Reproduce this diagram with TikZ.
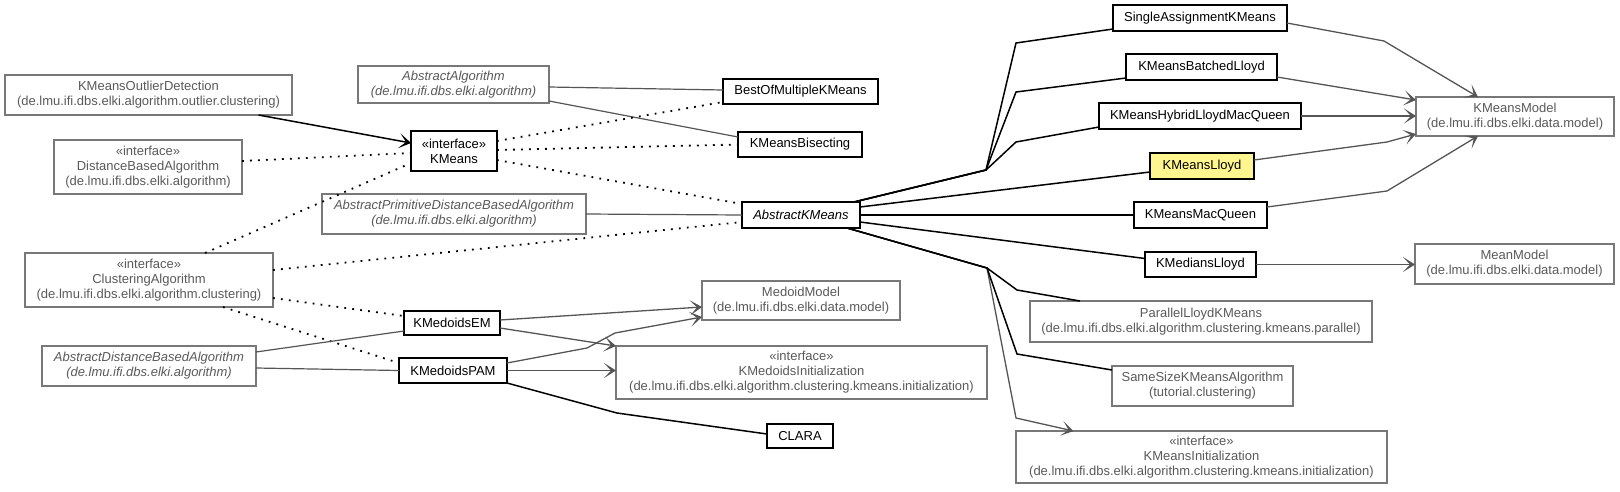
\documentclass[tikz,border=0pt]{standalone}
\usepackage{fontspec}
\setmainfont{Liberation Sans}
\usetikzlibrary{arrows.meta}
\definecolor{gline}{RGB}{85,85,85}
\definecolor{gborder}{RGB}{120,120,120}
\definecolor{gtext}{RGB}{90,90,90}
\definecolor{hl}{RGB}{255,246,143}
\newcommand{\umlfont}{\fontsize{13}{15}\selectfont}
\newcommand{\umlbox}[7]{\node[#6, minimum width={#4-#2}, minimum height={#5-#3}] (#1) at ({(#2+#4)/2},{(#3+#5)/2}) {#7};}
\begin{document}
\begin{tikzpicture}[x=1pt,y=-1pt,
  base/.style={rectangle, inner sep=0pt, outer sep=0pt, align=center, font=\umlfont, fill=white},
  cls/.style={base, draw=black, line width=1.6pt, text=black},
  ext/.style={base, draw=gborder, line width=1.2pt, text=gtext},
  hlcls/.style={cls, fill=hl},
  itl/.style={font=\umlfont\itshape},
  inh/.style={draw=black, line width=1.5pt},
  ginh/.style={draw=gline, line width=1.2pt},
  real/.style={draw=black, line width=1.8pt, dash pattern=on 1.8pt off 6.2pt},
  dep/.style={draw=gline, line width=1.3pt, -{Stealth[length=12pt,width=15pt,inset=7pt]}},
  bdep/.style={draw=black, line width=1.5pt, -{Stealth[length=12pt,width=15pt,inset=7pt]}}
]
\fill[white] (0,0) rectangle (1620,491);
\useasboundingbox (0,0) rectangle (1620,491);

% boxes
\umlbox{kod}{5}{75}{292}{115}{ext}{KMeansOutlierDetection\\(de.lmu.ifi.dbs.elki.algorithm.outlier.clustering)}
\umlbox{dba}{54}{140}{242}{194}{ext}{«interface»\\DistanceBasedAlgorithm\\(de.lmu.ifi.dbs.elki.algorithm)}
\umlbox{aa}{358}{66}{549}{103}{ext,itl}{AbstractAlgorithm\\(de.lmu.ifi.dbs.elki.algorithm)}
\umlbox{km}{411}{131}{497}{171}{cls}{«interface»\\KMeans}
\umlbox{bom}{723}{79}{878}{104}{cls}{BestOfMultipleKMeans}
\umlbox{kbis}{738}{132}{862}{157}{cls}{KMeansBisecting}
\umlbox{apd}{322}{194}{586}{234}{ext,itl}{AbstractPrimitiveDistanceBasedAlgorithm\\(de.lmu.ifi.dbs.elki.algorithm)}
\umlbox{akm}{742}{202}{860}{228}{cls,itl}{AbstractKMeans}
\umlbox{ca}{25}{253}{273}{307}{ext}{«interface»\\ClusteringAlgorithm\\(de.lmu.ifi.dbs.elki.algorithm.clustering)}
\umlbox{adb}{42}{346}{256}{386}{ext,itl}{AbstractDistanceBasedAlgorithm\\(de.lmu.ifi.dbs.elki.algorithm)}
\umlbox{kem}{404}{311}{500}{335}{cls}{KMedoidsEM}
\umlbox{kpam}{399}{358}{507}{383}{cls}{KMedoidsPAM}
\umlbox{clara}{767}{424}{833}{448}{cls}{CLARA}
\umlbox{mm}{702}{281}{900}{320}{ext}{MedoidModel\\(de.lmu.ifi.dbs.elki.data.model)}
\umlbox{kmi}{616}{346}{987}{399}{ext}{«interface»\\KMedoidsInitialization\\(de.lmu.ifi.dbs.elki.algorithm.clustering.kmeans.initialization)}
\umlbox{sakm}{1113}{5}{1287}{31}{cls}{SingleAssignmentKMeans}
\umlbox{kbl}{1126}{54}{1277}{80}{cls}{KMeansBatchedLloyd}
\umlbox{khl}{1099}{103}{1301}{129}{cls}{KMeansHybridLloydMacQueen}
\umlbox{kl}{1150}{153}{1254}{179}{hlcls}{KMeansLloyd}
\umlbox{kmq}{1134}{202}{1267}{228}{cls}{KMeansMacQueen}
\umlbox{kml}{1145}{252}{1256}{277}{cls}{KMediansLloyd}
\umlbox{kmm}{1416}{97}{1614}{136}{ext}{KMeansModel\\(de.lmu.ifi.dbs.elki.data.model)}
\umlbox{mem}{1415}{244}{1614}{284}{ext}{MeanModel\\(de.lmu.ifi.dbs.elki.data.model)}
\umlbox{plk}{1030}{301}{1372}{342}{ext}{ParallelLloydKMeans\\(de.lmu.ifi.dbs.elki.algorithm.clustering.kmeans.parallel)}
\umlbox{ss}{1112}{366}{1293}{406}{ext}{SameSizeKMeansAlgorithm\\(tutorial.clustering)}
\umlbox{kmini}{1016}{431}{1387}{483}{ext}{«interface»\\KMeansInitialization\\(de.lmu.ifi.dbs.elki.algorithm.clustering.kmeans.initialization)}

\coordinate (j1) at (986,170);
\coordinate (j2) at (987,268);

% left part
\draw[bdep] ([xshift=110]kod.south) -- ([yshift=8]km.west);
\draw[real] ([yshift=6]dba.east) -- ([yshift=-2]km.west);
\draw[real] ([xshift=56]ca.north) -- ([yshift=-12]km.west);
\draw[ginh] ([yshift=-2.5]aa.east) -- ([yshift=1.5]bom.west);
\draw[ginh] ([yshift=2]aa.south east) -- ([yshift=7.5]kbis.west);
\draw[real] ([yshift=10]km.east) -- ([yshift=2]bom.south west);
\draw[real] ([yshift=1]km.east) -- (kbis.west);
\draw[real] ([yshift=-9]km.east) -- ([yshift=-2]akm.north west);
\draw[real] ([yshift=10]ca.east) -- ([yshift=-7]akm.west);
\draw[real] ([yshift=-18]ca.east) -- ([yshift=7]kem.west);
\draw[real] ([xshift=74]ca.south) -- ([yshift=7.5]kpam.west);
\draw[ginh] (apd.east) -- (akm.west);
\draw[ginh] ([yshift=14]adb.east) -- ([yshift=-8]kem.west);
\draw[ginh] ([yshift=-2]adb.east) -- (kpam.west);
\draw[dep] ([yshift=3]kem.east) -- ([yshift=-6.5]mm.west);
\draw[dep] ([yshift=-5]kem.east) -- (kmi.north west);
\draw[dep] ([yshift=7.5]kpam.east) -- (587,348) -- (615,333) -- ([yshift=-16.5]mm.west);
\draw[dep] (kpam.east) -- (kpam.east -| kmi.west);
\draw[inh] (kpam.south east) -- (617,413) -- ([yshift=2]clara.west);

% upper fan
\draw[inh] ([xshift=-6]akm.north east) -- (j1) -- (1016,43) -- ([yshift=-11]sakm.west);
\draw[inh] ([xshift=-6]akm.north east) -- (j1) -- (1016,92) -- ([yshift=-11]kbl.west);
\draw[inh] ([xshift=-6]akm.north east) -- (j1) -- (1016,142) -- ([yshift=-11]khl.west);
\draw[inh] ([yshift=8]akm.east) -- ([yshift=-6]kl.west);
\draw[inh] (akm.east) -- (akm.east -| kmq.west);
\draw[inh] ([yshift=-7]akm.east) -- ([yshift=6]kml.west);

% lower fan
\draw[dep] ([xshift=46]akm.south) -- (j2) -- (1016,418) -- ([xshift=-128]kmini.north);
\draw[inh] ([xshift=46]akm.south) -- (j2) -- (1017,290) -- ([xshift=-121]plk.north);
\draw[inh] ([xshift=46]akm.south) -- (j2) -- (1017,354) -- ([yshift=16]ss.west);

% models
\draw[dep] ([yshift=-5]sakm.east) -- (1384,41) -- ([xshift=-37]kmm.north);
\draw[dep] ([yshift=-10]kbl.east) -- ([yshift=16.5]kmm.west);
\draw[dep] (khl.east) -- (khl.east -| kmm.west);
\draw[dep] ([yshift=6]kl.east) -- (1387,142) -- ([yshift=-17.5]kmm.west);
\draw[dep] ([yshift=8]kmq.east) -- (1387,191) -- ([xshift=-37]kmm.south);
\draw[dep] (kml.east) -- (kml.east -| mem.west);
\end{tikzpicture}
\end{document}
